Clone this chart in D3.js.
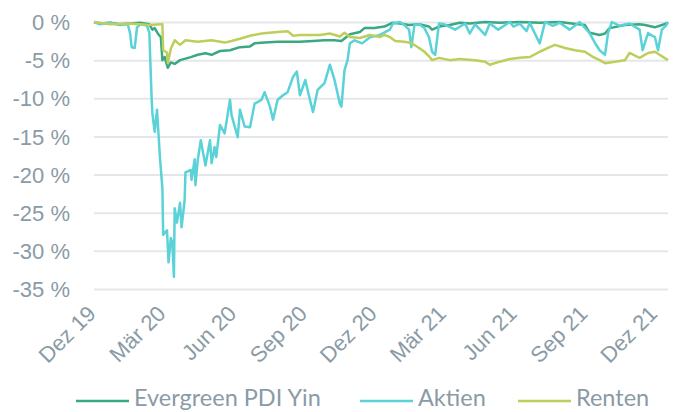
<!DOCTYPE html>
<html lang="de">
<head>
<meta charset="UTF-8">
<title>Drawdown</title>
<script src="https://cdn.jsdelivr.net/npm/d3@7"></script>
<style>
  body { margin: 0; background: #fff; }
  svg { display: block; font-family: Lato, "Open Sans", sans-serif; }
  .grid line { stroke: #e4e7ea; stroke-width: 2; }
  .tick text { fill: #8a9ba6; }
  .series { fill: none; stroke-width: 2.5; stroke-linejoin: round; }
</style>
</head>
<body>
<script>
// drawdown in %
const evergreenData = [
  ["2019-11-29", 0], ["2019-12-07", -0.2], ["2019-12-20", -0.1], ["2020-01-01", -0.3],
  ["2020-01-15", -0.2], ["2020-01-28", -0.1], ["2020-02-09", -0.3], ["2020-02-13", -1.0],
  ["2020-02-16", -0.8], ["2020-02-20", -1.5], ["2020-02-24", -2.0], ["2020-02-26", -5.0],
  ["2020-02-29", -4.6], ["2020-03-04", -6.0], ["2020-03-08", -5.3], ["2020-03-13", -5.5],
  ["2020-03-20", -5.0], ["2020-03-27", -4.8], ["2020-04-03", -4.6], ["2020-04-12", -4.3],
  ["2020-04-22", -4.1], ["2020-04-30", -4.3], ["2020-05-11", -3.8], ["2020-05-24", -3.7],
  ["2020-06-06", -3.3], ["2020-06-19", -3.2], ["2020-06-25", -2.8], ["2020-07-08", -2.7],
  ["2020-07-25", -2.6], ["2020-08-10", -2.6], ["2020-08-23", -2.6], ["2020-09-09", -2.5],
  ["2020-09-24", -2.4], ["2020-10-07", -2.4], ["2020-10-16", -2.5], ["2020-10-27", -1.6],
  ["2020-11-09", -1.3], ["2020-11-15", -0.8], ["2020-11-28", -0.8], ["2020-12-11", -0.6],
  ["2020-12-21", -0.1], ["2020-12-31", -0.2], ["2021-01-12", -0.4], ["2021-01-25", -0.3],
  ["2021-02-07", -0.6], ["2021-02-11", -1.0], ["2021-02-20", -0.6], ["2021-03-06", -0.4],
  ["2021-03-19", -0.1], ["2021-04-01", -0.2], ["2021-04-21", 0], ["2021-05-10", -0.1],
  ["2021-06-05", 0], ["2021-07-01", -0.1], ["2021-07-27", 0], ["2021-08-09", -0.15],
  ["2021-08-29", -0.4], ["2021-09-04", -1.4], ["2021-09-17", -1.7], ["2021-09-24", -1.5],
  ["2021-09-30", -0.8], ["2021-10-20", -0.4], ["2021-11-08", -0.3], ["2021-11-15", -0.4],
  ["2021-11-28", -0.7], ["2021-12-07", -0.4], ["2021-12-15", -0.1]
];

const aktienData = [
  ["2019-11-29", 0], ["2019-12-07", -0.3], ["2019-12-20", -0.1], ["2020-01-01", -0.4],
  ["2020-01-12", -0.3], ["2020-01-15", -1.5], ["2020-01-17", -3.3], ["2020-01-21", -3.4],
  ["2020-01-24", -0.7], ["2020-01-28", -0.3], ["2020-02-03", -0.4], ["2020-02-06", -0.5],
  ["2020-02-09", -1.4], ["2020-02-12", -10.0], ["2020-02-13", -12.0], ["2020-02-16", -14.4],
  ["2020-02-19", -11.5], ["2020-02-23", -18.0], ["2020-02-26", -21.8], ["2020-02-27", -27.9],
  ["2020-03-03", -27.3], ["2020-03-05", -31.5], ["2020-03-08", -28.3], ["2020-03-10", -29.0],
  ["2020-03-12", -33.4], ["2020-03-13", -24.4], ["2020-03-16", -26.3], ["2020-03-20", -23.7],
  ["2020-03-22", -26.9], ["2020-03-26", -23.3], ["2020-03-27", -19.7], ["2020-04-03", -19.4],
  ["2020-04-04", -20.7], ["2020-04-08", -18.0], ["2020-04-09", -21.4], ["2020-04-12", -18.1],
  ["2020-04-16", -15.5], ["2020-04-22", -18.8], ["2020-04-28", -15.5], ["2020-04-30", -18.5],
  ["2020-05-04", -16.4], ["2020-05-06", -17.7], ["2020-05-11", -13.5], ["2020-05-17", -14.6],
  ["2020-05-24", -10.2], ["2020-05-26", -12.2], ["2020-06-03", -15.1], ["2020-06-06", -11.5],
  ["2020-06-12", -13.7], ["2020-06-19", -13.8], ["2020-06-25", -10.7], ["2020-07-04", -10.2],
  ["2020-07-08", -9.2], ["2020-07-15", -11.1], ["2020-07-19", -12.8], ["2020-07-25", -10.2],
  ["2020-08-01", -9.6], ["2020-08-07", -9.2], ["2020-08-14", -7.2], ["2020-08-19", -6.5],
  ["2020-08-23", -9.6], ["2020-08-30", -7.6], ["2020-09-05", -10.2], ["2020-09-09", -11.8],
  ["2020-09-15", -8.9], ["2020-09-24", -8.0], ["2020-10-01", -5.6], ["2020-10-07", -7.6],
  ["2020-10-14", -10.7], ["2020-10-16", -11.1], ["2020-10-20", -6.3], ["2020-10-24", -5.0],
  ["2020-10-27", -2.8], ["2020-11-02", -2.4], ["2020-11-12", -2.8], ["2020-11-22", -2.0],
  ["2020-12-05", -1.7], ["2020-12-18", -1.0], ["2020-12-22", -0.2], ["2020-12-31", 0],
  ["2021-01-06", -0.4], ["2021-01-12", -1.0], ["2021-01-15", -3.3], ["2021-01-19", -0.4],
  ["2021-01-25", -0.3], ["2021-02-01", -0.8], ["2021-02-07", -2.0], ["2021-02-11", -3.9],
  ["2021-02-15", -4.3], ["2021-02-20", -0.2], ["2021-02-27", -0.3], ["2021-03-13", -1.0],
  ["2021-03-26", -0.2], ["2021-04-01", -1.5], ["2021-04-08", -0.3], ["2021-04-21", -1.7],
  ["2021-04-27", -0.2], ["2021-05-08", -1.0], ["2021-05-23", 0], ["2021-05-28", -0.6],
  ["2021-06-05", -0.2], ["2021-06-14", -1.2], ["2021-06-18", -0.1], ["2021-07-01", -2.8],
  ["2021-07-08", 0], ["2021-07-18", -0.5], ["2021-07-27", -0.1], ["2021-08-09", -1.0],
  ["2021-08-22", 0], ["2021-09-04", -1.45], ["2021-09-11", -2.75], ["2021-09-17", -3.7],
  ["2021-09-24", -4.3], ["2021-09-28", -1.45], ["2021-10-03", 0], ["2021-10-13", -0.5],
  ["2021-10-26", -0.2], ["2021-11-08", -1.0], ["2021-11-12", -3.7], ["2021-11-19", -1.45],
  ["2021-11-28", -2.0], ["2021-12-02", -3.7], ["2021-12-07", -1.0], ["2021-12-13", -0.4],
  ["2021-12-15", 0]
];

const rentenData = [
  ["2019-11-29", 0], ["2019-12-20", -0.3], ["2020-01-15", -0.2], ["2020-02-09", -0.4],
  ["2020-02-24", -0.3], ["2020-02-26", -0.3], ["2020-02-27", -3.7], ["2020-03-03", -4.0],
  ["2020-03-04", -5.4], ["2020-03-08", -3.5], ["2020-03-13", -2.4], ["2020-03-20", -3.0],
  ["2020-03-27", -2.4], ["2020-04-12", -2.6], ["2020-04-30", -2.4], ["2020-05-17", -2.7],
  ["2020-05-26", -2.5], ["2020-06-06", -2.2], ["2020-06-19", -1.8], ["2020-07-04", -1.5],
  ["2020-07-25", -1.3], ["2020-08-07", -1.2], ["2020-08-14", -1.8], ["2020-08-23", -1.7],
  ["2020-09-18", -1.7], ["2020-10-01", -1.5], ["2020-10-14", -1.9], ["2020-10-20", -1.4],
  ["2020-10-27", -1.97], ["2020-11-09", -2.1], ["2020-11-22", -1.7], ["2020-12-05", -1.97],
  ["2020-12-11", -1.7], ["2020-12-18", -1.97], ["2020-12-25", -2.5], ["2021-01-06", -2.6],
  ["2021-01-15", -2.75], ["2021-01-25", -3.4], ["2021-02-01", -3.9], ["2021-02-07", -4.5],
  ["2021-02-11", -5.0], ["2021-02-20", -4.7], ["2021-03-06", -5.0], ["2021-03-19", -4.85],
  ["2021-04-08", -5.0], ["2021-04-21", -5.2], ["2021-04-27", -5.6], ["2021-05-10", -5.2],
  ["2021-05-23", -4.85], ["2021-06-05", -4.7], ["2021-06-18", -4.6], ["2021-07-01", -3.9],
  ["2021-07-14", -3.3], ["2021-07-21", -3.0], ["2021-08-03", -3.4], ["2021-08-16", -3.7],
  ["2021-08-29", -3.9], ["2021-09-07", -4.5], ["2021-09-17", -5.0], ["2021-09-24", -5.4],
  ["2021-10-07", -5.2], ["2021-10-20", -5.0], ["2021-10-26", -4.06], ["2021-11-08", -4.7],
  ["2021-11-19", -4.06], ["2021-11-28", -3.9], ["2021-12-04", -4.3], ["2021-12-15", -5.0]
];

const seriesNames = ["Evergreen PDI Yin", "Aktien", "Renten"];
const seriesColors = ["#3aa982", "#5ad2d8", "#bece5a"];

const tickDates = ["2019-12-01", "2020-03-01", "2020-06-01", "2020-09-01", "2020-12-01",
                   "2021-03-01", "2021-06-01", "2021-09-01", "2021-12-01"];
const tickLabels = ["Dez 19", "Mär 20", "Jun 20", "Sep 20", "Dez 20",
                    "Mär 21", "Jun 21", "Sep 21", "Dez 21"];
const yTicks = [0, -5, -10, -15, -20, -25, -30, -35];

const W = 680, H = 412;
const parse = d3.timeParse("%Y-%m-%d");

const svg = d3.select("body").append("svg").attr("width", W).attr("height", H);

const x = d3.scaleTime()
  .domain([parse("2019-11-29"), parse("2021-12-15")])
  .range([94, 668]);
const y = d3.scaleLinear().domain([-35, 0]).range([289, 22]);

// gridlines + y labels
const yAxis = svg.append("g")
  .attr("class", "grid")
  .attr("transform", "translate(94,0)")
  .call(d3.axisLeft(y).tickValues(yTicks).tickSize(-(668 - 94)).tickPadding(24)
    .tickFormat(d => d + " %"));
yAxis.select(".domain").remove();
yAxis.selectAll("text").attr("font-size", 22).attr("dy", "0.35em");

// x labels, rotated
const xAxis = svg.append("g")
  .attr("transform", "translate(0,300)")
  .call(d3.axisBottom(x).tickValues(tickDates.map(parse)).tickSize(0)
    .tickFormat((d, i) => tickLabels[i]));
xAxis.select(".domain").remove();
xAxis.selectAll("text")
  .attr("font-size", 22)
  .attr("text-anchor", "end")
  .attr("y", 0).attr("dy", 0)
  .attr("transform", "translate(1,15) rotate(-45)");

const line = d3.line()
  .x(d => x(parse(d[0])))
  .y(d => y(d[1]));

[evergreenData, aktienData, rentenData].forEach((s, i) => {
  svg.append("path")
    .attr("class", "series")
    .attr("d", line(s))
    .attr("stroke", seriesColors[i]);
});

// legend
const legendX = [76, 360, 518];
const legend = svg.append("g").selectAll("g")
  .data(seriesNames)
  .join("g")
  .attr("transform", (d, i) => `translate(${legendX[i]},401)`);
legend.append("line")
  .attr("x1", 0).attr("x2", 53)
  .attr("stroke", (d, i) => seriesColors[i])
  .attr("stroke-width", 2.5);
legend.append("text")
  .attr("x", 58).attr("y", 5)
  .attr("font-size", 23.5)
  .attr("fill", "#8a9ba6")
  .text(d => d);
</script>
</body>
</html>
